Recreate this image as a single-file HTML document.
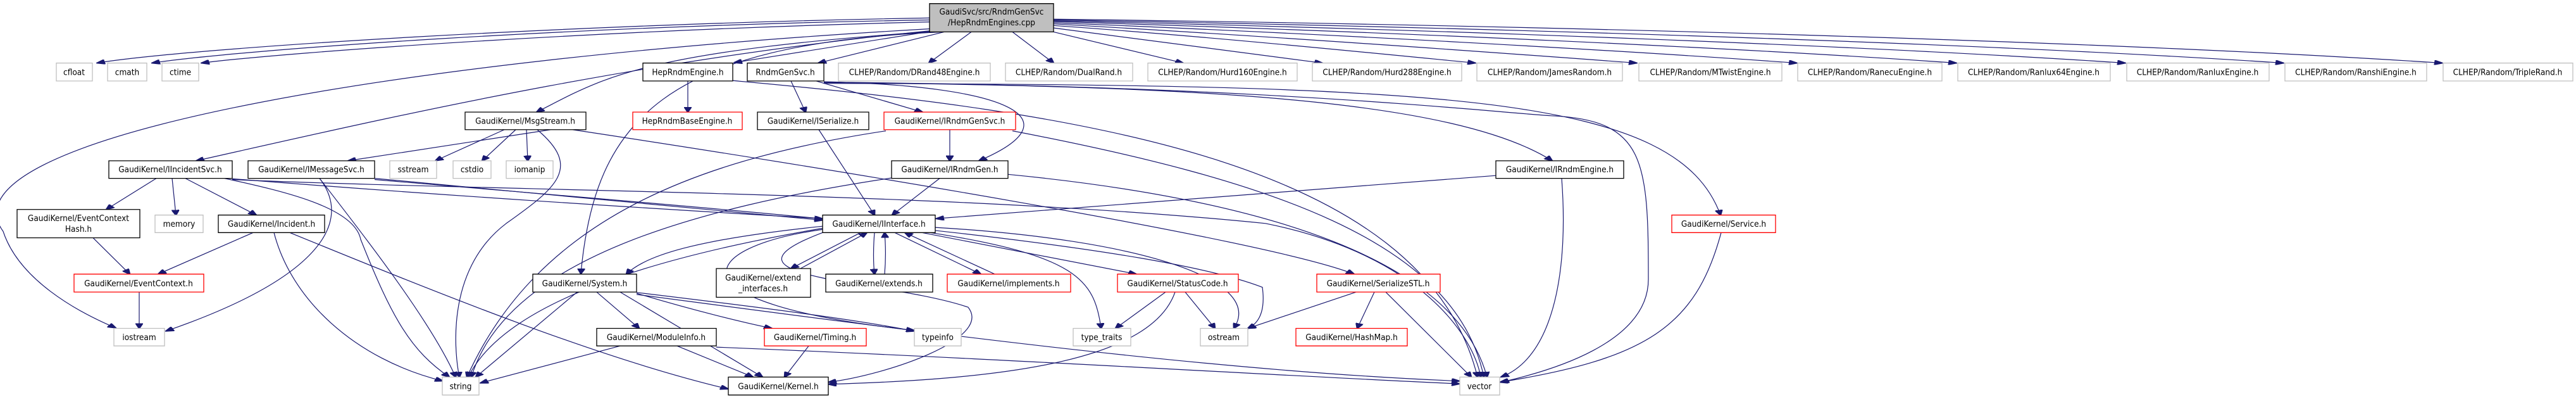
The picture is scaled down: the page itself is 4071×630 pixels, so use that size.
<!DOCTYPE html>
<html><head><meta charset="utf-8"><style>
html,body{margin:0;padding:0;background:#fff;overflow:hidden;}
svg{display:block;position:absolute;left:0;top:0;}
text{font-family:"DejaVu Sans Condensed","DejaVu Sans","Liberation Sans",sans-serif;font-size:13.5px;fill:#000;text-anchor:middle;}
.n{fill:#fff;stroke:#000;stroke-width:1.3;vector-effect:non-scaling-stroke;}
.g{fill:#fff;stroke:#bfbfbf;stroke-width:1.3;vector-effect:non-scaling-stroke;}
.r{fill:#fff;stroke:#ff0000;stroke-width:1.3;vector-effect:non-scaling-stroke;}
path{fill:none;stroke:#191970;stroke-width:1.2;vector-effect:non-scaling-stroke;}
</style></head><body>
<svg width="4071" height="630" viewBox="0 0 4071 1000" preserveAspectRatio="none" xmlns="http://www.w3.org/2000/svg">
<defs><marker id="a" markerWidth="14" markerHeight="12" refX="13" refY="6" orient="auto" markerUnits="userSpaceOnUse"><path d="M0,0 L14,6 L0,12 Z" style="fill:#191970;stroke:#191970"/></marker></defs>
<g marker-end="url(#a)">
<path d="M1469,45 C900,60 300,120 153,158"/>
<path d="M1469,50 C900,65 380,125 240,158"/>
<path d="M1469,55 C950,75 460,130 318,158"/>
<path d="M1472,72 C600,150 -100,350 5,580 C30,700 120,780 183,822"/>
<path d="M1478,76 C1000,150 600,300 310,403"/>
<path d="M1482,78 C1000,130 950,200 848,281"/>
<path d="M1490,80 C1050,110 940,300 918,686"/>
<path d="M1485,75 L1160,157"/>
<path d="M1492,80 L1293,158"/>
<path d="M1535,80 L1468,158"/>
<path d="M1600,80 L1665,158"/>
<path d="M1665,80 L1870,158"/>
<path d="M1665,70 L2090,158"/>
<path d="M1665,64 C1900,90 2150,130 2332,158"/>
<path d="M1665,60 C2000,90 2350,130 2587,158"/>
<path d="M1665,57 C2100,85 2550,125 2840,158"/>
<path d="M1665,54 C2200,80 2750,120 3092,158"/>
<path d="M1665,52 C2300,75 2950,115 3359,158"/>
<path d="M1665,50 C2400,70 3150,110 3609,158"/>
<path d="M1665,48 C2500,65 3350,105 3860,158"/>
<path d="M1087,203 L1087,281"/>
<path d="M1158,202 C1700,280 2250,400 2335,945"/>
<path d="M1250,203 L1273,281"/>
<path d="M1290,203 L1458,281"/>
<path d="M1302,205 C1600,215 1700,300 1547,403"/>
<path d="M1302,207 C1900,215 2300,250 2453,403"/>
<path d="M1302,209 C2300,212 2650,240 2719,539"/>
<path d="M1302,206 C2000,215 2350,280 2450,290 C2600,300 2605,400 2605,700 C2605,860 2450,930 2372,958"/>
<path d="M1501,325 L1501,403"/>
<path d="M1400,328 C1100,400 850,550 738,945"/>
<path d="M1600,328 C2000,450 2300,600 2345,945"/>
<path d="M1294,325 L1382,539"/>
<path d="M1485,447 L1410,539"/>
<path d="M1409,446 C1100,520 800,650 745,945"/>
<path d="M1593,437 C2000,500 2300,650 2350,945"/>
<path d="M2364,440 L1479,548"/>
<path d="M2468,447 C2480,700 2450,900 2372,945"/>
<path d="M870,325 L550,403"/>
<path d="M797,325 L688,403"/>
<path d="M815,325 L762,403"/>
<path d="M832,325 L834,403"/>
<path d="M849,325 C920,420 880,470 800,560 C700,680 720,900 726,945"/>
<path d="M905,325 C1300,420 2000,600 2140,687"/>
<path d="M247,447 L168,525"/>
<path d="M272,447 L278,539"/>
<path d="M293,447 L405,539"/>
<path d="M355,447 C450,480 560,520 570,600 C620,800 650,880 710,945"/>
<path d="M367,448 C700,490 1000,520 1300,548"/>
<path d="M367,450 C800,480 1500,480 2000,560 C2250,640 2330,850 2340,945"/>
<path d="M592,447 C900,490 1100,520 1300,552"/>
<path d="M505,447 C560,560 680,800 720,945"/>
<path d="M505,447 C560,560 500,700 262,830"/>
<path d="M592,450 C1100,520 1800,600 1995,720 C2000,780 1990,810 1972,823"/>
<path d="M147,596 L205,687"/>
<path d="M400,583 L250,687"/>
<path d="M433,583 C460,750 560,900 700,955"/>
<path d="M458,583 C700,740 950,900 1151,975"/>
<path d="M220,732 L220,823"/>
<path d="M1300,567 C1100,600 1020,640 990,687"/>
<path d="M1360,583 L1250,673"/>
<path d="M1265,673 L1370,583"/>
<path d="M1382,583 C1380,620 1380,660 1382,687"/>
<path d="M1398,687 C1400,650 1400,620 1398,583"/>
<path d="M1414,583 L1550,687"/>
<path d="M1572,687 L1430,583"/>
<path d="M1457,583 L1796,687"/>
<path d="M1470,583 C1700,640 1730,700 1740,823"/>
<path d="M1478,570 C1800,600 2000,700 1950,823"/>
<path d="M1300,572 C1050,640 800,750 740,945"/>
<path d="M1300,575 C1100,620 1050,760 1445,828"/>
<path d="M1305,580 C1100,700 1400,700 1530,770 C1570,850 1400,940 1309,958"/>
<path d="M1842,732 L1763,823"/>
<path d="M1873,732 L1920,823"/>
<path d="M1857,732 C1820,900 1600,950 1309,963"/>
<path d="M2172,732 L2145,823"/>
<path d="M2190,732 L2325,945"/>
<path d="M2143,732 L1972,823"/>
<path d="M2720,583 C2680,820 2600,900 2370,958"/>
<path d="M912,732 L752,945"/>
<path d="M943,732 L1010,823"/>
<path d="M980,732 L1205,945"/>
<path d="M1006,735 C1100,780 1180,810 1220,823"/>
<path d="M1006,733 C1200,770 1350,800 1445,830"/>
<path d="M1006,738 C1400,820 1900,930 2307,955"/>
<path d="M980,867 L759,960"/>
<path d="M1070,867 L1190,945"/>
<path d="M1132,870 C1600,900 2000,940 2307,962"/>
<path d="M1278,867 L1240,945"/>
</g>
<rect x="1469" y="9" width="196" height="71" style="fill:#bfbfbf;stroke:#000;stroke-width:1.3;vector-effect:non-scaling-stroke"/>
<rect class="g" x="89" y="158" width="57" height="45"/>
<rect class="g" x="170" y="158" width="62" height="45"/>
<rect class="g" x="256" y="158" width="58" height="45"/>
<rect class="n" x="1016" y="158" width="142" height="45"/>
<rect class="n" x="1181" y="158" width="121" height="45"/>
<rect class="g" x="1325" y="158" width="240" height="45"/>
<rect class="g" x="1589" y="158" width="201" height="45"/>
<rect class="g" x="1814" y="158" width="236" height="45"/>
<rect class="g" x="2074" y="158" width="236" height="45"/>
<rect class="g" x="2334" y="158" width="230" height="45"/>
<rect class="g" x="2590" y="158" width="226" height="45"/>
<rect class="g" x="2841" y="158" width="228" height="45"/>
<rect class="g" x="3094" y="158" width="241" height="45"/>
<rect class="g" x="3361" y="158" width="225" height="45"/>
<rect class="g" x="3611" y="158" width="224" height="45"/>
<rect class="g" x="3861" y="158" width="205" height="45"/>
<rect class="n" x="735" y="281" width="191" height="44"/>
<rect class="r" x="1000" y="281" width="173" height="44"/>
<rect class="n" x="1197" y="281" width="176" height="44"/>
<rect class="r" x="1397" y="281" width="208" height="44"/>
<rect class="n" x="172" y="403" width="195" height="44"/>
<rect class="n" x="392" y="403" width="200" height="44"/>
<rect class="g" x="616" y="403" width="74" height="44"/>
<rect class="g" x="716" y="403" width="60" height="44"/>
<rect class="g" x="800" y="403" width="74" height="44"/>
<rect class="n" x="1409" y="403" width="184" height="44"/>
<rect class="n" x="2364" y="403" width="202" height="44"/>
<rect class="n" x="27" y="525" width="194" height="71"/>
<rect class="g" x="245" y="539" width="76" height="44"/>
<rect class="n" x="345" y="539" width="168" height="44"/>
<rect class="n" x="1300" y="539" width="178" height="44"/>
<rect class="r" x="2642" y="539" width="164" height="44"/>
<rect class="r" x="117" y="687" width="205" height="45"/>
<rect class="n" x="842" y="687" width="164" height="45"/>
<rect class="n" x="1132" y="673" width="149" height="72"/>
<rect class="n" x="1305" y="687" width="169" height="45"/>
<rect class="r" x="1497" y="687" width="195" height="45"/>
<rect class="r" x="1766" y="687" width="191" height="45"/>
<rect class="r" x="2081" y="687" width="195" height="45"/>
<rect class="g" x="180" y="823" width="80" height="44"/>
<rect class="n" x="943" y="823" width="189" height="44"/>
<rect class="r" x="1208" y="823" width="161" height="44"/>
<rect class="g" x="1445" y="823" width="74" height="44"/>
<rect class="g" x="1696" y="823" width="91" height="44"/>
<rect class="g" x="1897" y="823" width="75" height="44"/>
<rect class="r" x="2048" y="823" width="176" height="44"/>
<rect class="g" x="699" y="945" width="58" height="45"/>
<rect class="n" x="1151" y="945" width="158" height="45"/>
<rect class="g" x="2307" y="945" width="63" height="45"/>
</svg>
<svg width="4071" height="630" viewBox="0 0 4071 630" xmlns="http://www.w3.org/2000/svg">
<text x="1567" y="23">GaudiSvc/src/RndmGenSvc</text><text x="1567" y="40">/HepRndmEngines.cpp</text>
<text x="117" y="118.5">cfloat</text>
<text x="201" y="118.5">cmath</text>
<text x="285" y="118.5">ctime</text>
<text x="1087" y="118.5">HepRndmEngine.h</text>
<text x="1241" y="118.5">RndmGenSvc.h</text>
<text x="1445" y="118.5">CLHEP/Random/DRand48Engine.h</text>
<text x="1689" y="118.5">CLHEP/Random/DualRand.h</text>
<text x="1932" y="118.5">CLHEP/Random/Hurd160Engine.h</text>
<text x="2192" y="118.5">CLHEP/Random/Hurd288Engine.h</text>
<text x="2449" y="118.5">CLHEP/Random/JamesRandom.h</text>
<text x="2703" y="118.5">CLHEP/Random/MTwistEngine.h</text>
<text x="2955" y="118.5">CLHEP/Random/RanecuEngine.h</text>
<text x="3214" y="118.5">CLHEP/Random/Ranlux64Engine.h</text>
<text x="3473" y="118.5">CLHEP/Random/RanluxEngine.h</text>
<text x="3723" y="118.5">CLHEP/Random/RanshiEngine.h</text>
<text x="3963" y="118.5">CLHEP/Random/TripleRand.h</text>
<text x="830" y="195.3">GaudiKernel/MsgStream.h</text>
<text x="1086" y="195.3">HepRndmBaseEngine.h</text>
<text x="1285" y="195.3">GaudiKernel/ISerialize.h</text>
<text x="1501" y="195.3">GaudiKernel/IRndmGenSvc.h</text>
<text x="269" y="272.2">GaudiKernel/IIncidentSvc.h</text>
<text x="492" y="272.2">GaudiKernel/IMessageSvc.h</text>
<text x="653" y="272.2">sstream</text>
<text x="746" y="272.2">cstdio</text>
<text x="837" y="272.2">iomanip</text>
<text x="1501" y="272.2">GaudiKernel/IRndmGen.h</text>
<text x="2465" y="272.2">GaudiKernel/IRndmEngine.h</text>
<text x="124" y="349">GaudiKernel/EventContext</text><text x="124" y="366">Hash.h</text>
<text x="283" y="357.9">memory</text>
<text x="429" y="357.9">GaudiKernel/Incident.h</text>
<text x="1389" y="357.9">GaudiKernel/IInterface.h</text>
<text x="2724" y="357.9">GaudiKernel/Service.h</text>
<text x="219" y="451.8">GaudiKernel/EventContext.h</text>
<text x="924" y="451.8">GaudiKernel/System.h</text>
<text x="1206" y="443">GaudiKernel/extend</text><text x="1206" y="460">_interfaces.h</text>
<text x="1389" y="451.8">GaudiKernel/extends.h</text>
<text x="1594" y="451.8">GaudiKernel/implements.h</text>
<text x="1861" y="451.8">GaudiKernel/StatusCode.h</text>
<text x="2178" y="451.8">GaudiKernel/SerializeSTL.h</text>
<text x="220" y="536.8">iostream</text>
<text x="1037" y="536.8">GaudiKernel/ModuleInfo.h</text>
<text x="1288" y="536.8">GaudiKernel/Timing.h</text>
<text x="1482" y="536.8">typeinfo</text>
<text x="1741" y="536.8">type_traits</text>
<text x="1934" y="536.8">ostream</text>
<text x="2136" y="536.8">GaudiKernel/HashMap.h</text>
<text x="728" y="614.3">string</text>
<text x="1230" y="614.3">GaudiKernel/Kernel.h</text>
<text x="2338" y="614.3">vector</text>
</svg>
</body></html>
